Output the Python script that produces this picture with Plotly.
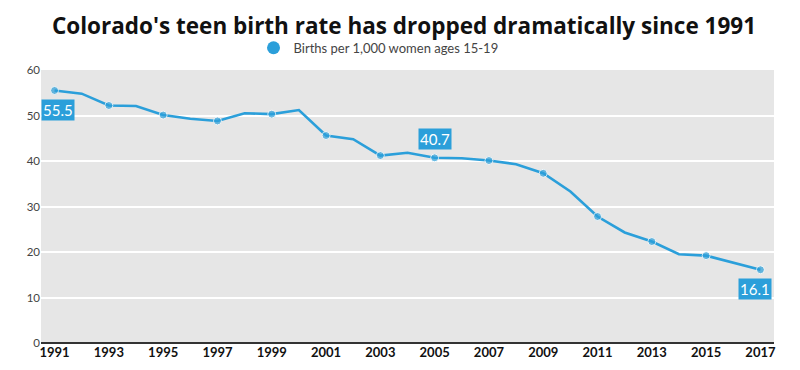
import plotly.graph_objects as go

years = list(range(1991, 2018))
births = [55.5, 54.8, 52.2, 52.1, 50.1, 49.3, 48.8, 50.5, 50.3, 51.2,
          45.6, 44.8, 41.2, 41.8, 40.7, 40.6, 40.1, 39.3, 37.3, 33.3,
          27.8, 24.3, 22.3, 19.5, 19.2, 17.7, 16.1]
series_name = "Births per 1,000 women ages 15-19"
title_text = "Colorado's teen birth rate has dropped dramatically since 1991"
x_ticks = list(range(1991, 2018, 2))
y_ticks = [0, 10, 20, 30, 40, 50, 60]
labeled = {1991: 55.5, 2005: 40.7, 2017: 16.1}

BLUE = "#2b9fda"
FONT = "Lato"

marker_sizes = [8 if (y - 1991) % 2 == 0 else 0 for y in years]

fig = go.Figure()
fig.add_trace(go.Scatter(
    x=years, y=births, mode="lines+markers",
    line=dict(color=BLUE, width=2.6),
    marker=dict(color=BLUE, size=marker_sizes),
    showlegend=False, hoverinfo="x+y",
))
fig.add_trace(go.Scatter(
    x=[None], y=[None], mode="markers", name=series_name,
    marker=dict(color=BLUE, size=13),
))

offsets = {1991: (0.12, -4.2), 2005: (0.0, 4.2), 2017: (-0.2, -4.2)}
for yr, val in labeled.items():
    dx, dy = offsets[yr]
    fig.add_annotation(
        x=yr + dx, y=val + dy, text=f"{val}", showarrow=False,
        font=dict(family=FONT, size=15, color="white"),
        bgcolor=BLUE, borderpad=1,
    )

# page body has an 8px default margin; figure sized to fill the rest
fig.update_layout(
    width=792, height=362,
    margin=dict(l=33, r=26, t=62, b=27, autoexpand=False),
    paper_bgcolor="white", plot_bgcolor="#e6e6e6",
    font=dict(family=FONT, color="#333"),
    title=dict(text=f"<b>{title_text}</b>", x=0.5, xanchor="center",
               xref="container", y=0.950, yanchor="middle",
               font=dict(family="Open Sans", size=22.5, color="#111")),
    legend=dict(orientation="h", x=0.31, xanchor="left", xref="container",
                y=0.890, yanchor="middle", yref="container",
                font=dict(family=FONT, size=13, color="#444"),
                itemsizing="trace", bgcolor="rgba(0,0,0,0)"),
    xaxis=dict(range=[1990.5, 2017.5], tickvals=x_ticks,
               ticktext=[str(t) for t in x_ticks], showgrid=False,
               zeroline=False, showline=False, ticks="", automargin=False,
               tickfont=dict(family=FONT, size=13, color="#111", weight="bold")),
    yaxis=dict(range=[0, 60], tickvals=y_ticks, showgrid=True,
               gridcolor="white", gridwidth=2, zeroline=True,
               zerolinecolor="#333", zerolinewidth=2, ticks="", automargin=False,
               tickfont=dict(family=FONT, size=11.5, color="#444")),
)

fig.write_html("out.html")
